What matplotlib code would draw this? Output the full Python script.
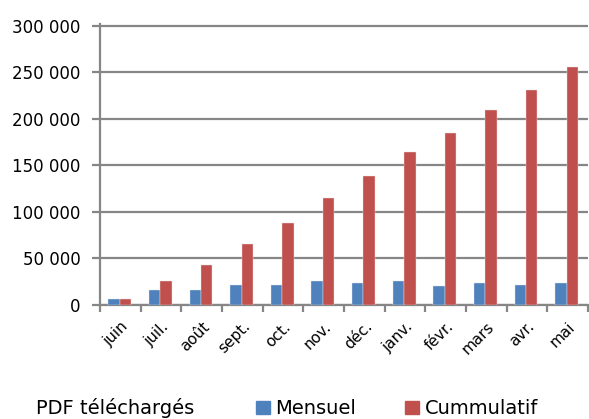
import matplotlib
matplotlib.use("Agg")
import matplotlib.pyplot as plt
import numpy as np
from matplotlib.patches import Patch

# monthly / cumulative downloaded PDFs
mois = ["juin", "juil.", "août", "sept.", "oct.", "nov.", "déc.",
        "janv.", "févr.", "mars", "avr.", "mai"]
mensuel = [6500, 16000, 16000, 21700, 21700, 25700, 23600,
           25700, 20000, 23600, 21700, 23600]
cumulatif = [6500, 25700, 42800, 65300, 88100, 114900, 138200,
             164200, 185000, 209900, 231000, 255200]
y_ticks = [0, 50000, 100000, 150000, 200000, 250000, 300000]

blue = "#4F81BD"
red = "#C0504D"
grey = "#868686"

plt.rcParams['font.family'] = ['DejaVu Sans']

fig = plt.figure(figsize=(5.89, 4.19), dpi=100)
ax = fig.add_axes([0.170, 0.272, 0.828, 0.670])

x = np.arange(len(mois))
w = 0.28
ax.bar(x - w / 2 - 0.02, mensuel, w, color=blue, edgecolor="#dfe6f0", linewidth=0.3, zorder=3)
ax.bar(x + w / 2 - 0.02, cumulatif, w, color=red, edgecolor="#f0dede", linewidth=0.3, zorder=3)

ax.set_xlim(-0.5, len(mois) - 0.5)
ax.set_ylim(0, 301500)  # a little headroom so the top gridline shows
ax.set_yticks(y_ticks)
ax.set_yticklabels([f"{v:,}".replace(",", " ") for v in y_ticks], fontsize=12)
ax.yaxis.grid(True, color=grey, linewidth=1.6, zorder=0)
ax.tick_params(axis="y", length=6, width=1.6, color=grey, pad=8)

ax.set_xticks(x)
ax.set_xticklabels(mois, rotation=45, ha="right", va="top",
                   rotation_mode="anchor", fontsize=11)
ax.set_xticks(np.arange(-0.5, len(mois)), minor=True)
ax.tick_params(axis="x", which="major", length=0, pad=10)
ax.tick_params(axis="x", which="minor", length=5, width=1.6, color=grey)

for s in ["top", "right"]:
    ax.spines[s].set_visible(False)
for s in ["left", "bottom"]:
    ax.spines[s].set_color(grey)
    ax.spines[s].set_linewidth(1.6)

fig.text(0.061, 0.012, "PDF téléchargés", fontsize=14, ha="left", va="baseline")
handles = [Patch(color=blue, label="Mensuel"), Patch(color=red, label="Cummulatif")]
fig.legend(handles=handles, loc="lower left", bbox_to_anchor=(0.405, -0.04), ncol=2,
           frameon=False, fontsize=14, handlelength=0.7, handleheight=0.7,
           handletextpad=0.3, columnspacing=2.5)

fig.savefig("out.png", dpi=100)
